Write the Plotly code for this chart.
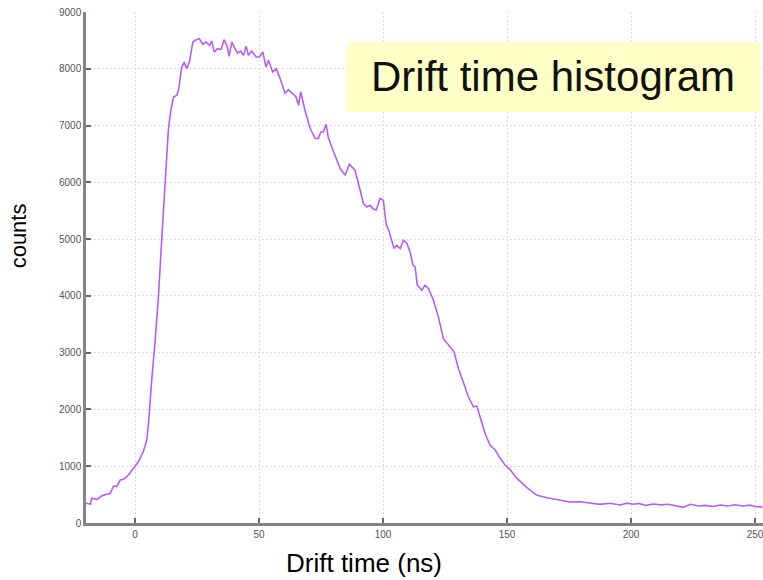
import plotly.graph_objects as go

# Drift time (ns) and counts
drift_time = [
    -20, -18, -17.5, -15.4, -13.4, -10, -8.7, -7.4, -6, -4.7, -2.7, -0.7, 1.3, 3.3, 4.7, 5.4, 6.0, 6.7,
    8.1, 9.4, 10.8, 12.1, 13.4, 14.4, 15.5, 16.8, 17.5, 18.8, 19.8, 20.8, 21.9, 23.3, 24.6, 25.9,
    27.3, 28.6, 30.0, 30.9, 31.9, 33.2, 34.6, 35.9, 37.2, 37.9, 39.0, 40.3, 41.3, 42.6, 43.7, 44.8,
    45.7, 47.0, 48.8, 50.1, 51.5, 52.8, 53.8, 55.5, 56.9, 58.5, 60.5, 61.8, 63.6, 64.9, 65.9, 66.8,
    68.5, 70.6, 72.6, 73.9, 74.9, 75.9, 77.0, 77.9, 79.3, 81.0, 82.7, 84.7, 86.4, 88.7, 90.0, 92.1,
    93.4, 94.8, 95.8, 97.2, 98.8, 100.1, 101.2, 102.5, 104.4, 105.5, 106.9, 108.2, 109.6, 110.9,
    112.0, 112.9, 113.8, 115.6, 116.9, 118.3, 120.3, 122.3, 124.3, 126.3, 128.6, 130.4, 132.4,
    134.4, 136.4, 137.8, 139.1, 141.1, 143.1, 145.2, 147.2, 149.2, 151.2, 153.9, 157.9, 161.9,
    166.0, 170.7, 175.4, 179.4, 183.5, 187.5, 191.5, 195.6, 198.3, 201, 203, 206, 209, 212, 215,
    218, 221, 224, 227, 230, 233, 236, 239, 242, 245, 248, 250, 253,
]
counts = [
    350, 335, 435, 417, 480, 522, 651, 640, 757, 769, 845, 962, 1079, 1255, 1461, 1755, 2165, 2517,
    3221, 3983, 5039, 6037, 6917, 7269, 7503, 7533, 7621, 8031, 8119, 8003, 8119, 8471, 8513, 8530,
    8430, 8471, 8413, 8489, 8295, 8354, 8337, 8513, 8383, 8219, 8471, 8354, 8277, 8312, 8237, 8395,
    8237, 8312, 8207, 8207, 8295, 8031, 8149, 7943, 8003, 7827, 7563, 7633, 7563, 7503, 7357, 7592,
    7269, 6947, 6771, 6771, 6887, 6887, 7022, 6799, 6623, 6419, 6243, 6125, 6318, 6213, 5979, 5627,
    5567, 5597, 5539, 5509, 5715, 5685, 5275, 5127, 4835, 4893, 4835, 4981, 4923, 4775,
    4541, 4511, 4189, 4101, 4189, 4131, 3925, 3631, 3251, 3133, 3015, 2723, 2458,
    2223, 2047, 2059, 1871, 1579, 1373, 1285, 1139, 1021, 940, 790, 628, 493,
    446, 405, 370, 375, 347, 329, 347, 317, 350, 330, 345, 310, 335, 320, 330,
    300, 276, 330, 300, 310, 290, 317, 300, 320, 300, 315, 290, 280,
]

x_ticks = [0, 50, 100, 150, 200, 250]
y_ticks = [0, 1000, 2000, 3000, 4000, 5000, 6000, 7000, 8000, 9000]

FONT = "Liberation Sans, Arial, sans-serif"

fig = go.Figure()
fig.add_trace(go.Scatter(
    x=drift_time, y=counts, mode="lines",
    line=dict(color="#B95CF2", width=1.6, shape="linear"),
    showlegend=False, hoverinfo="skip",
))

axis_common = dict(
    showgrid=True, gridcolor="#DCDCDC", griddash="2px,2px", gridwidth=1,
    showline=True, linecolor="#858585", linewidth=2.5,
    ticks="inside", ticklen=5, tickwidth=1.5, tickcolor="#666666",
    tickfont=dict(family=FONT, size=10, color="#555555"),
    ticklabeloverflow="allow",
    zeroline=False,
)

fig.update_xaxes(range=[-19.8, 253.2], tickvals=x_ticks,
                 ticktext=[str(v) for v in x_ticks], **axis_common)
fig.update_yaxes(range=[0, 9000], tickvals=y_ticks,
                 ticktext=[str(v) for v in y_ticks], **axis_common)

# axis titles
fig.add_annotation(xref="paper", yref="paper", x=0.410, y=-0.078,
                   text="Drift time (ns)", showarrow=False,
                   xanchor="center", yanchor="middle",
                   font=dict(family=FONT, size=26, color="#000000"))
fig.add_annotation(xref="paper", yref="paper", x=-0.1004, y=0.561,
                   text="counts", showarrow=False, textangle=-90,
                   xanchor="center", yanchor="middle",
                   font=dict(family=FONT, size=22, color="#000000"))

# title box
fig.add_shape(type="rect", xref="paper", yref="paper",
              x0=0.3855, x1=0.9956, y0=0.8043, y1=0.9413,
              fillcolor="#FFFFC6", line=dict(width=0), layer="above")
fig.add_annotation(xref="paper", yref="paper", x=0.69, y=0.873,
                   text="Drift time histogram", showarrow=False,
                   xanchor="center", yanchor="middle",
                   font=dict(family=FONT, size=42, color="#111111"))

fig.update_layout(
    width=763, height=580,
    margin=dict(l=86, r=0, t=12, b=57),
    plot_bgcolor="white", paper_bgcolor="white",
)

fig.write_html("out.html")
